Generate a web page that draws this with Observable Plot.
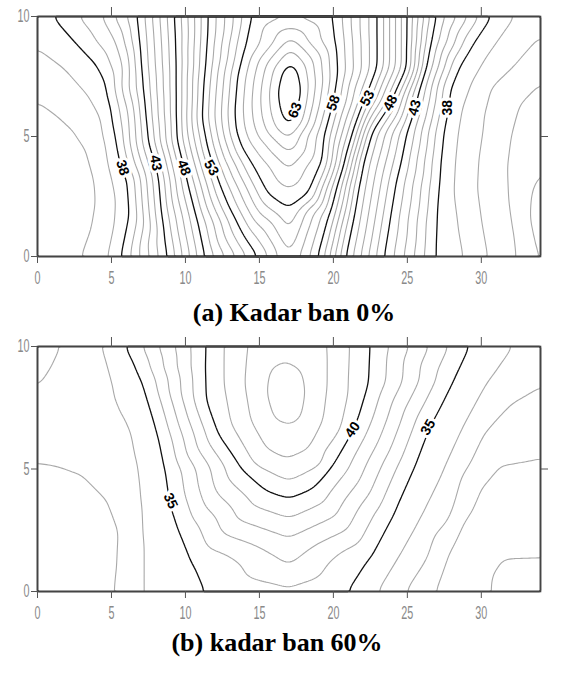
<!DOCTYPE html>
<html><head><meta charset="utf-8">
<script src="https://cdn.jsdelivr.net/npm/d3@7"></script>
<script src="https://cdn.jsdelivr.net/npm/@observablehq/plot@0.6"></script>
<style>
body{margin:0;background:#fff;}
#wrap{position:relative;width:565px;height:686px;overflow:hidden;}
.panel{position:absolute;left:0;}
.title{position:absolute;font-family:"Liberation Serif","Times New Roman",serif;font-weight:bold;font-size:26px;line-height:26px;white-space:nowrap;color:#000;transform:translateX(-50%);}
</style></head><body><div id="wrap"></div>
<script>
// ---------- tick labels ----------
const xTicks = [0, 5, 10, 15, 20, 25, 30];
const xTopTicks = [5, 10, 15, 20, 25, 30];
const yTicks = [0, 5, 10];
const yRightTicks = [5];
const titleA = "(a) Kadar ban 0%";
const titleB = "(b) kadar ban 60%";

// ---------- panel (a): isolines, [x, y] in data units ----------
const a36 = [[0,6.5],[1.55,5.8],[2.6,5.2],[3.4,4.5],[4.0,3.2],[4.1,2.3],[3.8,1.2],[3.1,0]];
const a37 = [[0,8.7],[1.75,7.9],[3.6,6.6],[4.4,5.7],[4.6,4.8],[4.9,3.5],[5.3,2.3],[5.2,1.2],[4.8,0]];
const a38 = [[1.1,10],[2.8,8.8],[4.05,8],[4.7,7.2],[4.9,6.5],[5.1,5.5],[5.4,4.7],[5.75,3.7],[6.15,3.2],[6.3,1.8],[5.7,0]];
const a40 = [[4.4,10],[5.3,9],[5.8,8],[6.15,6]];
const a43 = [[6.75,10],[6.9,9],[7.0,8],[7.15,7],[7.3,6],[7.5,4.8],[8.0,3.8],[8.2,3.2],[8.4,1.7],[8.6,0.8],[8.8,0]];
const a48 = [[9.26,10],[9.35,9],[9.4,8],[9.4,7],[9.4,6],[9.46,4.8],[9.9,3.7],[10.1,3.2],[10.8,1.5],[11.3,0]];
const a53 = [[11.5,10],[11.45,9],[11.35,8],[11.2,7],[11.1,5.8],[11.5,4.5],[11.9,3.7],[12.3,3.0],[12.9,2.1],[13.5,1.4],[14.2,0.6],[14.9,0]];
const a58 = [[14.4,10],[13.9,8.5],[13.5,7.5],[13.3,6],[13.4,5.2],[13.8,4.5],[14.4,3.9],[15.5,2.6],[17.0,1.95],[18.4,2.6],[19.3,3.9],[19.5,5.25],[20.0,6.4],[20.3,7.6],[20.2,8.8],[20.0,10]];
const a63 = [[17.1,8.15],[16.5,7.7],[16.25,6.9],[16.35,6.2],[16.7,5.55],[17.0,5.35],[17.5,5.7],[17.75,6.4],[17.85,7.0],[17.65,7.75]];
const a53r = [[23.0,10],[23.0,9],[23.0,7.9],[22.2,6.6],[21.4,5.25],[20.8,4],[20.3,3],[19.8,1.8],[19.4,0.9],[19.0,0]];
const a48r = [[25.0,10],[25.0,9],[25.0,7.9],[23.9,6.4],[22.5,5.1],[22.0,4],[21.7,3],[21.3,1.5],[20.8,0]];
const a43r = [[26.9,10],[26.6,9],[26.3,8],[25.8,7],[25.5,6.2],[25.0,5.25],[24.6,4],[24.2,3],[23.8,1.5],[23.4,0]];
const a38r = [[30.6,10],[29.3,8.8],[28.4,7.9],[27.8,7.0],[27.7,6.2],[27.4,5.25],[27.2,4],[27.1,3],[26.9,1.5],[26.8,0]];
const a37r = [[32.2,10],[30.6,8.6],[29.3,7.2],[28.6,6],[28.4,5.25],[28.2,4],[28.1,2.8],[28.4,1.4],[28.8,0]];
const a36r = [[34,9.2],[32.3,8.0],[30.6,7],[30.2,6],[30.1,5.25],[29.8,4],[29.7,2.8],[30.0,1.4],[30.4,0]];
const a35r = [[34,7.3],[32.6,6.4],[32.0,5],[31.8,4],[31.9,2.5],[32.2,1.2],[32.4,0]];
const a34r = [[34,3.7],[33.3,2.6],[33.2,1.5],[33.8,0]];
// single readings [x, y, value]
const aSpots = [[0,10,37.6],[0,0,35.4],[0,2.5,35.2],[0,4.5,35.5],[1.5,1.5,35.5],[2,3.5,35.6],
  [17.05,6.8,63.95],[17.05,7.6,63.7],[16.65,6.8,63.7],[17.45,6.8,63.7],[17.0,6.0,63.7],
  [17.1,10,58.9],[17.1,9.55,60],[17.1,9.1,61],[17.1,8.7,62],
  [17,0,56],[17,1.0,57],[17,2.8,59],[17,3.6,60],[17,4.3,61],[17,4.9,62],
  [34,10,36.4],[34,0,33.8],[34,2,33.7]];
const aLevelsGray = d3.range(30, 70).filter(v => v % 5 !== 3);
const aLevelsBlack = [33, 38, 43, 48, 53, 58, 63, 68];
const aLabels = [
  {v:38, x:5.75, y:3.7, r:72}, {v:43, x:8.0, y:3.9, r:80}, {v:48, x:9.9, y:3.7, r:70}, {v:53, x:11.75, y:3.7, r:60},
  {v:63, x:17.4, y:6.1, r:-70}, {v:58, x:20.0, y:6.4, r:-70}, {v:53, x:22.3, y:6.6, r:-62},
  {v:48, x:23.85, y:6.4, r:-62}, {v:43, x:25.5, y:6.2, r:-75}, {v:38, x:27.7, y:6.2, r:-90}];

// ---------- panel (b) ----------
const b33a = [[1.55,10],[1.0,9.3],[0,8.3]];
const b33b = [[0,5.3],[1.5,5.15],[3.1,4.8],[4.9,3.7],[5.7,2.4],[5.6,1.2],[5.4,0]];
const b34 = [[4.4,10],[4.9,9],[5.3,8.1],[5.9,7.2],[6.4,6.5],[6.7,5.5],[6.9,4.5],[7.0,3.7],[7.1,2],[7.1,0]];
const b35 = [[6.0,10],[6.6,9.3],[7.2,8.5],[7.8,7.3],[8.3,6.2],[8.7,5.0],[9.0,3.7],[9.7,2.4],[10.5,1.2],[11.35,0]];
const b40 = [[11.35,10],[11.3,9],[11.35,7.8],[12.2,6.4],[13.7,5.1],[15.5,4.1],[17.0,3.8],[18.6,4.2],[20.3,5.5],[21.3,6.6],[21.8,7.3],[22.4,8.5],[22.5,10]];
const b41 = [[12.6,10],[12.6,8.5],[13.1,6.8],[14.6,5.2],[17,4.5],[19.3,5.2],[20.5,6.6],[21.0,8.0],[21.1,10]];
const b42 = [[14.2,10],[14.0,8.5],[14.4,7.0],[15.5,5.8],[16.8,5.4],[18.3,5.8],[19.3,7.0],[19.6,8.5],[19.6,10]];
const b43 = [[15.5,8.1],[15.7,9.1],[16.3,9.6],[17.2,9.6],[17.9,9.0],[18.1,8.1],[17.8,7.0],[17.0,6.6],[16.0,7.0]];
const b35r = [[29.1,10],[28.1,8.7],[27.2,7.6],[26.4,6.7],[25.4,5.1],[24.6,4],[23.9,3.0],[22.5,1.4],[21.0,0]];
const b34r = [[32.1,10],[30.6,8.7],[28.8,6.7],[27.6,5.1],[25.9,3.0],[24.5,1.5],[23.0,0]];
const b33r = [[34,8.4],[32.0,7.7],[30.3,6.6],[29.2,5.2],[27.9,3.0],[26.4,1.4],[24.9,0]];
const b32r = [[34,5.5],[31.1,5.2],[29.7,4.2],[28.8,3.0],[27.7,1.55],[26.8,0]];
const b31r = [[34,1.4],[31.3,1.35],[30.6,0.7],[30.5,0]];
const bSpots = [[0,10,32.6],[0,6.8,33.4],[0,0,32.4],[2,2,32.6],
  [16.8,8.1,43.8],[16.8,10,42.8],[17,3.0,39],[17,2.2,38],[17,1.1,37],[17,0,35.8],
  [34,10,33.6],[34,0,30.7],[34,3.5,31.6]];
const bLevelsGray = d3.range(28, 50).filter(v => v % 5 !== 0);
const bLevelsBlack = [30, 35, 40, 45];
const bLabels = [{v:35, x:9.0, y:3.7, r:65}, {v:40, x:21.3, y:6.6, r:-55}, {v:35, x:26.4, y:6.7, r:-60}];

// ---------- build sample tables ----------
function samples(lines, spots) {
  const out = [];
  for (const [v, line] of lines) for (const [x, y] of line) out.push({x, y, v});
  for (const [x, y, v] of spots) out.push({x, y, v});
  return out;
}
const ptsA = samples([[36,a36],[37,a37],[38,a38],[40,a40],[43,a43],[48,a48],[53,a53],[58,a58],[63,a63],
  [53,a53r],[48,a48r],[43,a43r],[38,a38r],[37,a37r],[36,a36r],[35,a35r],[34,a34r]], aSpots);
const ptsB = samples([[33,b33a],[33,b33b],[34,b34],[35,b35],[40,b40],[41,b41],[42,b42],[43,b43],
  [35,b35r],[34,b34r],[33,b33r],[32,b32r],[31,b31r]], bSpots);

const tickFont = '"Liberation Sans Narrow","Arial Narrow","Liberation Sans",sans-serif';
const labelFont = '"Liberation Sans",Arial,sans-serif';

function panel(points, labels, grayT, blackT, frameH) {
  const common = {x: "x", y: "y", value: "v", interpolate: "barycentric", blur: 2, x1: 0, x2: 34, y1: 0, y2: 10, fill: "none"};
  const svg = Plot.plot({
    width: 565, height: 16 + frameH + 36,
    marginLeft: 37, marginRight: 25, marginTop: 16, marginBottom: 36,
    x: {domain: [0, 34]}, y: {domain: [0, 10]},
    style: {fontFamily: tickFont, fontSize: "18px", background: "#fff"},
    marks: [
      Plot.contour(points, {...common, thresholds: grayT, stroke: "#a9a9a9", strokeWidth: 1.1}),
      Plot.contour(points, {...common, thresholds: blackT, stroke: "#111", strokeWidth: 1.3}),
      Plot.text(labels, {x: "x", y: "y", text: d => String(d.v), rotate: "r", fill: "#fff", stroke: "#fff", strokeWidth: 6, fontWeight: "bold", fontSize: 14, fontFamily: labelFont}),
      Plot.text(labels, {x: "x", y: "y", text: d => String(d.v), rotate: "r", fill: "#000", fontWeight: "bold", fontSize: 14, fontFamily: labelFont}),
      Plot.frame({stroke: "#444", strokeWidth: 1.6}),
      Plot.axisX({anchor: "bottom", ticks: xTicks, tickSize: 7, tickPadding: 8, label: null, stroke: "#555", fill: "#8a8a8a"}),
      Plot.axisX({anchor: "top", ticks: xTopTicks, tickSize: 10, tickFormat: () => "", label: null, stroke: "#555"}),
      Plot.axisY({anchor: "left", ticks: yTicks, tickSize: 6, tickPadding: 2, label: null, stroke: "#555", fill: "#8a8a8a"}),
      Plot.axisY({anchor: "right", ticks: yRightTicks, tickSize: 7, tickFormat: () => "", label: null, stroke: "#555"})
    ]
  });
  // condensed look of the tick digits
  for (const t of svg.querySelectorAll('g[aria-label$="tick label"] text')) {
    const tr = t.getAttribute("transform");
    if (tr) t.setAttribute("transform", tr + " scale(0.6,1)");
  }
  return svg;
}

const wrap = document.getElementById("wrap");
const svgA = panel(ptsA, aLabels, aLevelsGray, aLevelsBlack, 240);
svgA.classList.add("panel"); svgA.style.top = "0px";
wrap.appendChild(svgA);
const tA = document.createElement("div");
tA.className = "title"; tA.textContent = titleA; tA.style.top = "300px"; tA.style.left = "294px";
wrap.appendChild(tA);
const svgB = panel(ptsB, bLabels, bLevelsGray, bLevelsBlack, 245);
svgB.classList.add("panel"); svgB.style.top = "330px";
wrap.appendChild(svgB);
const tB = document.createElement("div");
tB.className = "title"; tB.textContent = titleB; tB.style.top = "630px"; tB.style.left = "277px";
wrap.appendChild(tB);
</script></body></html>
